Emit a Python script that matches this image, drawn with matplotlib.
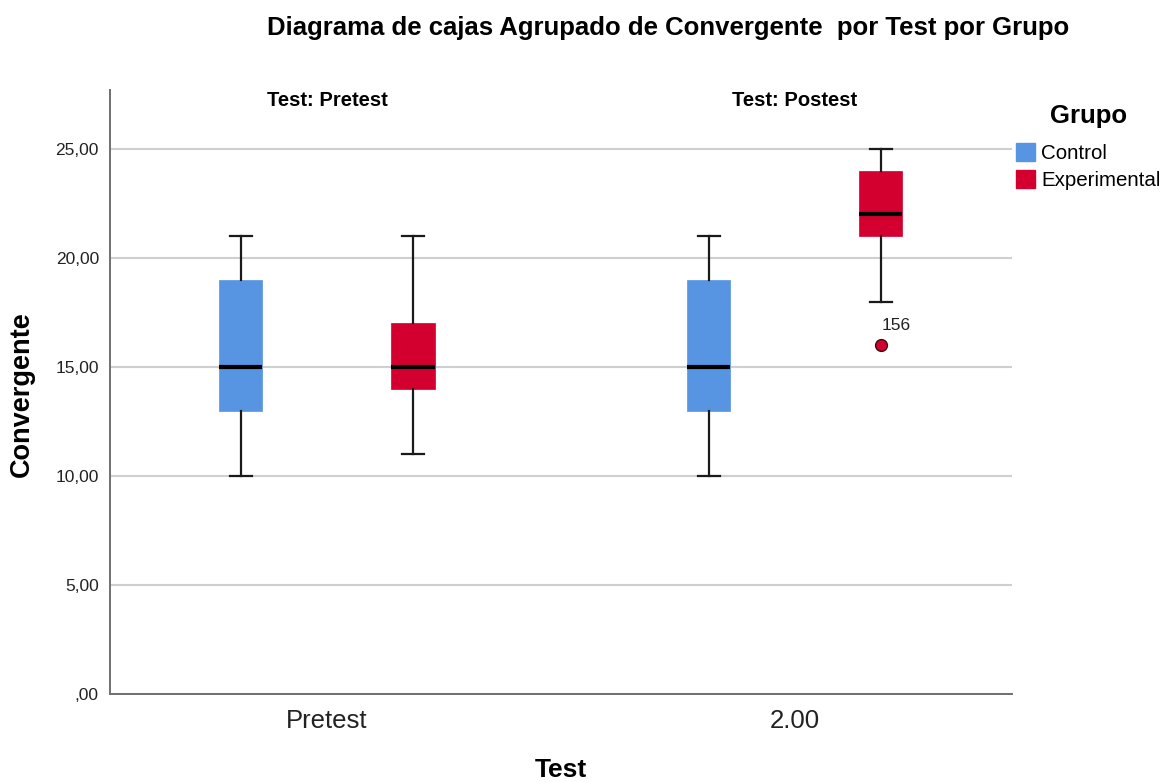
import matplotlib.pyplot as plt
from matplotlib.patches import Patch

plt.rcParams['font.family'] = ['Liberation Sans', 'DejaVu Sans']

tests = ['Pretest', '2.00']
panel_titles = ['Test: Pretest', 'Test: Postest']
groups = ['Control', 'Experimental']
colors = ['#5795E3', '#D3002F']

# five-number summaries: [whislo, q1, med, q3, whishi]
control = [[10, 13, 15, 19, 21], [10, 13, 15, 19, 21]]
experimental = [[11, 14, 15, 17, 21], [18, 21, 22, 24, 25]]
control_out = [[], []]
experimental_out = [[], [16]]
experimental_out_ids = [[], ['156']]

yticks = [0, 5, 10, 15, 20, 25]
ytick_labels = [',00', '5,00', '10,00', '15,00', '20,00', '25,00']


def make_stats(summary, fliers):
    out = []
    for s, f in zip(summary, fliers):
        out.append({'whislo': s[0], 'q1': s[1], 'med': s[2], 'q3': s[3],
                    'whishi': s[4], 'fliers': f})
    return out


fig = plt.figure(figsize=(11.66, 7.82), dpi=100)
ax = fig.add_axes([110 / 1166, 88 / 782, 902 / 1166, 604 / 782])

offset = 0.184
width = 0.092
cap = 0.047
cats = list(range(len(tests)))

for stats, fl, shift, col in [(control, control_out, -offset, colors[0]),
                              (experimental, experimental_out, offset, colors[1])]:
    ax.bxp(make_stats(stats, fl), positions=[c + shift for c in cats],
           widths=width, capwidths=cap, patch_artist=True, manage_ticks=False,
           boxprops=dict(facecolor=col, edgecolor=col, linewidth=0.5),
           medianprops=dict(color='black', linewidth=3),
           whiskerprops=dict(color='#1a1a1a', linewidth=1.6),
           capprops=dict(color='#1a1a1a', linewidth=1.6),
           flierprops=dict(marker='o', markerfacecolor=col, markeredgecolor='#3a0a10',
                           markersize=8.5, markeredgewidth=1.0),
           zorder=3)

# outlier case label
for i, (vals, ids) in enumerate(zip(experimental_out, experimental_out_ids)):
    for v, lab in zip(vals, ids):
        ax.annotate(lab, (i + offset, v), xytext=(1, 9), textcoords='offset points',
                    ha='left', va='bottom', fontsize=12.5, color='#222222')

ax.set_xlim(-0.464, 1.465)
ax.set_ylim(0, 27.7)
ax.set_yticks(yticks)
ax.set_yticklabels(ytick_labels, fontsize=12.5, color='#222222')
ax.set_xticks(cats)
ax.set_xticklabels(tests, fontsize=18.5, color='#222222')
ax.tick_params(axis='both', length=0)
ax.tick_params(axis='y', pad=8)
ax.tick_params(axis='x', pad=11)

ax.yaxis.grid(True, color='#cfcfcf', linewidth=1.5)
ax.set_axisbelow(True)
for side in ['top', 'right']:
    ax.spines[side].set_visible(False)
for side in ['left', 'bottom']:
    ax.spines[side].set_color('#707070')
    ax.spines[side].set_linewidth(1.4)

for i, t in enumerate(panel_titles):
    ax.text(i, 0.983, t, transform=ax.get_xaxis_transform(), ha='center', va='center',
            fontsize=14.5, fontweight='bold')

fig.text(22 / 1166, 1 - 394 / 782, 'Convergente', rotation=90, ha='center', va='center',
         fontsize=19.5, fontweight='bold')
fig.text(561 / 1166, 1 - 770 / 782, 'Test', ha='center', va='center',
         fontsize=19, fontweight='bold')
fig.text(668 / 1166, 1 - 28 / 782, 'Diagrama de cajas Agrupado de Convergente  por Test por Grupo',
         ha='center', va='center', fontsize=18.5, fontweight='bold')

handles = [Patch(facecolor=c, edgecolor=c, label=g) for c, g in zip(colors, groups)]
leg = fig.legend(handles=handles, title='Grupo', loc='upper left',
                 bbox_to_anchor=(1014 / 1166, 1 - 102 / 782), frameon=False,
                 fontsize=14.8, title_fontproperties={'weight': 'bold', 'size': 18.5},
                 handlelength=0.93, handleheight=0.93, handletextpad=0.3,
                 labelspacing=0.35, borderaxespad=0, borderpad=0.1)
leg._legend_box.sep = 11

fig.savefig('out.png', dpi=100)
